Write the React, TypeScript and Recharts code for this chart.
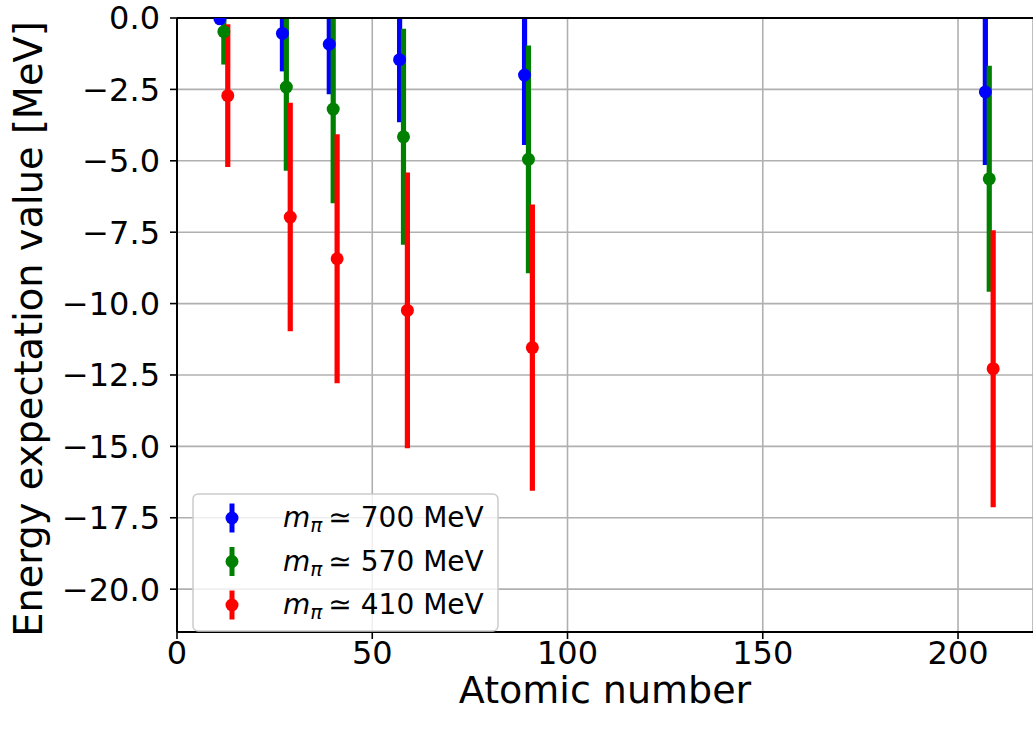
import React from "react";
import {
  ScatterChart,
  Scatter,
  XAxis,
  YAxis,
  CartesianGrid,
  ErrorBar,
  ReferenceLine,
  Legend,
} from "recharts";

const FONT = "'DejaVu Sans', sans-serif";

// nuclei on the x axis
const nuclei = [12, 28, 40, 58, 90, 208];

// energy expectation values and their errors [MeV] for each pion mass
const energy700 = [-0.03, -0.54, -0.92, -1.46, -2.0, -2.59];
const error700 = [0.1, 1.33, 1.75, 2.19, 2.45, 2.56];
const energy570 = [-0.48, -2.42, -3.19, -4.16, -4.95, -5.63];
const error570 = [1.15, 2.93, 3.3, 3.78, 3.99, 3.96];
const energy410 = [-2.72, -6.97, -8.43, -10.24, -11.54, -12.28];
const error410 = [2.5, 4.0, 4.36, 4.83, 5.01, 4.85];

const xTicks = [0, 50, 100, 150, 200];
const yTicks = [0, -2.5, -5, -7.5, -10, -12.5, -15, -17.5, -20];

// small horizontal shift so the three series don't sit on top of each other
const series = [
  { mass: "700", color: "#0000ff", shift: -1, energy: energy700, error: error700 },
  { mass: "570", color: "#008000", shift: 0, energy: energy570, error: error570 },
  { mass: "410", color: "#ff0000", shift: 1, energy: energy410, error: error410 },
];

const fmtY = (v: number) => v.toFixed(1).replace("-", "\u2212");

function XLabel({ viewBox }: any) {
  return (
    <text
      x={viewBox.x + viewBox.width / 2}
      y={viewBox.y + 71}
      textAnchor="middle"
      fontSize={38}
      fontFamily={FONT}
      fill="#000"
    >
      Atomic number
    </text>
  );
}

function YLabel({ viewBox }: any) {
  const cx = viewBox.x + 42;
  const cy = viewBox.y + viewBox.height / 2 + 4;
  return (
    <text
      x={cx}
      y={cy}
      transform={`rotate(-90, ${cx}, ${cy})`}
      textAnchor="middle"
      fontSize={38.4}
      fontFamily={FONT}
      fill="#000"
    >
      Energy expectation value [MeV]
    </text>
  );
}

function PionLegend() {
  return (
    <svg width={307} height={139} style={{ display: "block" }}>
      <rect x={1} y={1} width={305} height={137} rx={5} fill="#fff" fillOpacity={0.8} stroke="#cccccc" strokeWidth={1.5} />
      {series.map((s, i) => {
        const cy = 25 + i * 43.5;
        return (
          <g key={s.mass}>
            <line x1={40} x2={40} y1={cy - 14.5} y2={cy + 14.5} stroke={s.color} strokeWidth={5} />
            <circle cx={40} cy={cy} r={6.5} fill={s.color} />
            <text x={91} y={cy + 9} fontFamily={FONT} fontSize={28} fill="#000">
              <tspan fontStyle="italic">m</tspan>
              <tspan fontStyle="italic" fontSize={20} dy={5}>π</tspan>
              <tspan dy={-5} dx={6}>≃</tspan>
              <tspan dx={9}>{s.mass} MeV</tspan>
            </text>
          </g>
        );
      })}
    </svg>
  );
}

export default function App() {
  return (
    <div style={{ position: "absolute", left: 0, top: 0, width: 1033, height: 735, background: "#fff" }}>
      <ScatterChart width={1033} height={735} margin={{ top: 18, right: 0, bottom: 0, left: 0 }}>
        <CartesianGrid stroke="#b0b0b0" strokeWidth={1.6} />
        <XAxis
          type="number"
          dataKey="x"
          domain={[0, 219.2]}
          ticks={xTicks}
          interval={0}
          allowDataOverflow
          height={103}
          tickSize={7}
          tickMargin={2}
          axisLine={{ stroke: "#000", strokeWidth: 2 }}
          tickLine={{ stroke: "#000", strokeWidth: 1.6 }}
          tick={{ fontSize: 32, fill: "#000", fontFamily: FONT }}
          label={<XLabel />}
        />
        <YAxis
          type="number"
          dataKey="y"
          domain={[-21.5, 0]}
          ticks={yTicks}
          interval={0}
          allowDataOverflow
          width={177}
          tickSize={7}
          tickMargin={10}
          tickFormatter={fmtY}
          axisLine={{ stroke: "#000", strokeWidth: 2 }}
          tickLine={{ stroke: "#000", strokeWidth: 1.6 }}
          tick={{ fontSize: 32, fill: "#000", fontFamily: FONT }}
          label={<YLabel />}
        />
        {series.map((s) => (
          <Scatter
            key={s.mass}
            name={`m_pi ~ ${s.mass} MeV`}
            data={nuclei.map((z, i) => ({ x: z + s.shift, y: s.energy[i], err: s.error[i] }))}
            fill={s.color}
            isAnimationActive={false}
            shape={(p: any) => <circle cx={p.cx} cy={p.cy} r={6.5} fill={s.color} />}
          >
            <ErrorBar dataKey="err" direction="y" width={0} stroke={s.color} strokeWidth={5.2} isAnimationActive={false} />
          </Scatter>
        ))}
        <ReferenceLine y={0} stroke="#000" strokeWidth={2} />
        <Legend
          layout="vertical"
          verticalAlign="middle"
          align="center"
          content={() => <PionLegend />}
          wrapperStyle={{ left: 192, top: 493, width: 307, height: 139 }}
        />
      </ScatterChart>
      {/* error bars run past the top of the plot; mask the strip above the top spine */}
      <div style={{ position: "absolute", left: 178, top: 0, width: 855, height: 17, background: "#fff" }} />
    </div>
  );
}
